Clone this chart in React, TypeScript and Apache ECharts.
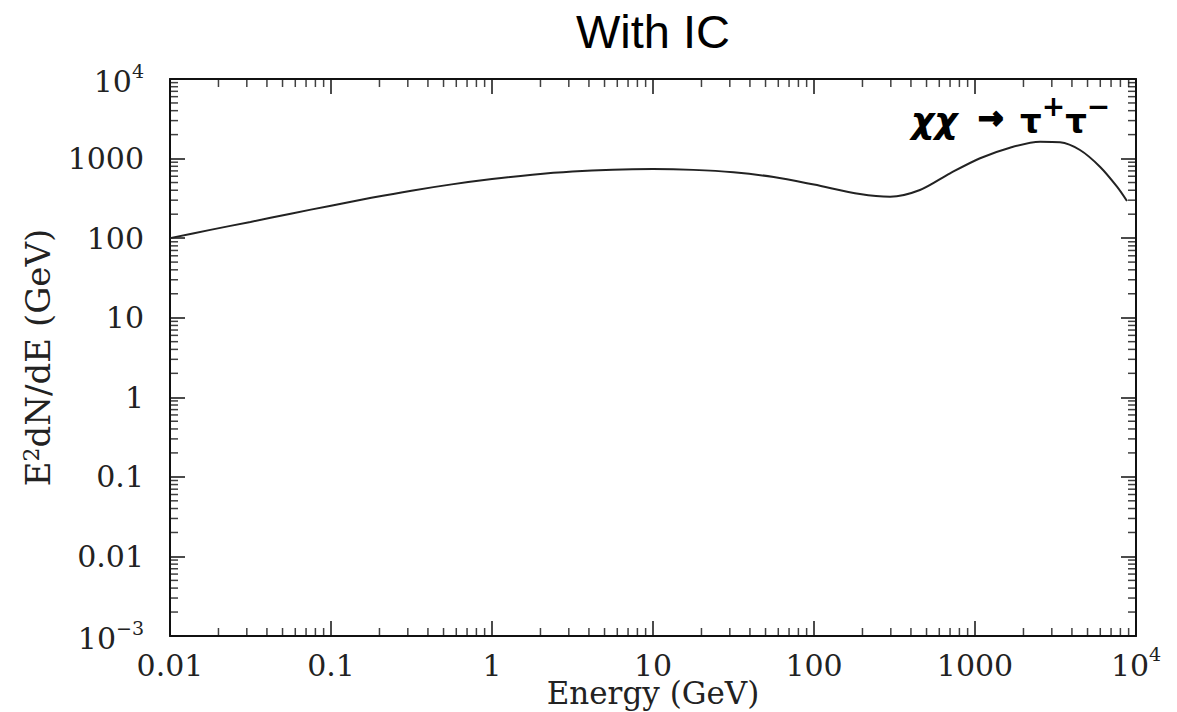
import React, { useEffect, useRef } from "react";
import * as echarts from "echarts";

// Energy (GeV) and E^2 dN/dE (GeV)
const energies = [
  0.01, 0.0178, 0.0316, 0.0562, 0.1, 0.178, 0.316, 0.562, 1, 1.78, 3.16, 5.62, 10, 17.8, 31.6, 56.2,
  100, 193, 297, 455, 700, 1075, 1648, 2535, 3373, 4487, 5970, 7620, 8790,
];
const spectrum = [
  100, 127, 160, 203, 256, 321, 395, 474, 553, 628, 689, 726, 738, 721, 673, 586,
  471, 359, 332, 403, 653, 1009, 1371, 1629, 1603, 1282, 791, 444, 293,
];

// Tick labels by decade exponent
const xTickLabels: Record<string, string> = {
  "-2": "{b|0.01}",
  "-1": "{b|0.1}",
  "0": "{b|1}",
  "1": "{b|10}",
  "2": "{b|100}",
  "3": "{b|1000}",
  "4": "{b|10}{s|4}",
};
const yTickLabels: Record<string, string> = {
  "-3": "{b|10}{s|−3}",
  "-2": "{b|0.01}",
  "-1": "{b|0.1}",
  "0": "{b|1}",
  "1": "{b|10}",
  "2": "{b|100}",
  "3": "{b|1000}",
  "4": "{b|10}{s|4}",
};
const xDecades = [-2, -1, 0, 1, 2, 3];
const yDecades = [-3, -2, -1, 0, 1, 2, 3];
const minorMultipliers = [2, 3, 4, 5, 6, 7, 8, 9];

const titleText = "With IC";
const xName = "Energy (GeV)";
const yName = "E{s|2}dN/dE (GeV)";

const X_MIN = 0.01;
const X_MAX = 10000;
const Y_MIN = 0.001;
const Y_MAX = 10000;

const SERIF = "'DejaVu Serif', serif";

export default function App() {
  const ref = useRef<HTMLDivElement>(null);
  useEffect(() => {
    if (!ref.current) return;
    const chart = echarts.init(ref.current, undefined, { renderer: "svg" });

    const xMinor: number[] = [];
    xDecades.forEach((n) => minorMultipliers.forEach((m) => xMinor.push(m * Math.pow(10, n))));
    const yMinor: number[] = [];
    yDecades.forEach((n) => minorMultipliers.forEach((m) => yMinor.push(m * Math.pow(10, n))));

    const lineData = energies.map((e, i) => [e, spectrum[i]]);

    const axisLineStyle = { color: "#111", width: 2 };
    const richX = {
      b: { fontSize: 30, fontFamily: SERIF, color: "#222", lineHeight: 36, verticalAlign: "bottom" },
      s: { fontSize: 19, fontFamily: SERIF, color: "#222", verticalAlign: "top" },
    };
    const richY = {
      b: { fontSize: 30, fontFamily: SERIF, color: "#222", verticalAlign: "bottom" },
      s: { fontSize: 19, fontFamily: SERIF, color: "#222", verticalAlign: "top", padding: [0, 0, 16, 0] },
    };
    const keyOf = (v: number) => String(Math.round(Math.log10(v)));

    const tickSeries = (data: number[][], size: number[], offset: number[]) => ({
      type: "scatter",
      xAxisIndex: 0,
      yAxisIndex: 0,
      data,
      symbol: "rect",
      symbolSize: size,
      symbolOffset: offset,
      itemStyle: { color: "#111" },
      clip: false,
      silent: true,
      z: 4,
    });

    const option: any = {
      animation: false,
      backgroundColor: "#fff",
      grid: { left: 170, right: 41, top: 79, bottom: 76, containLabel: false, outerBoundsMode: "none" },
      xAxis: [
        {
          type: "log",
          logBase: 10,
          min: X_MIN,
          max: X_MAX,
          position: "bottom",
          name: xName,
          nameLocation: "middle",
          nameGap: 44,
          nameMoveOverlap: false,
          nameTextStyle: { fontSize: 31, fontFamily: SERIF, color: "#222", lineHeight: 26 },
          axisLine: { show: true, lineStyle: axisLineStyle },
          axisTick: { show: true, inside: true, length: 15, lineStyle: { color: "#111", width: 1.5 } },
          axisLabel: {
            margin: 8,
            formatter: (v: number) => xTickLabels[keyOf(v)] ?? "",
            rich: richX,
          },
          splitLine: { show: false },
        },
        {
          type: "log",
          logBase: 10,
          min: X_MIN,
          max: X_MAX,
          position: "top",
          axisLine: { show: true, lineStyle: axisLineStyle },
          axisTick: { show: true, inside: true, length: 15, lineStyle: { color: "#111", width: 1.5 } },
          axisLabel: { show: false },
          splitLine: { show: false },
        },
      ],
      yAxis: [
        {
          type: "log",
          logBase: 10,
          min: Y_MIN,
          max: Y_MAX,
          position: "left",
          name: yName,
          nameLocation: "middle",
          nameGap: 114,
          nameRotate: 90,
          nameMoveOverlap: false,
          nameTextStyle: {
            fontSize: 34,
            fontFamily: SERIF,
            color: "#222",
            rich: { s: { fontSize: 22, fontFamily: SERIF, color: "#222", verticalAlign: "top", padding: [0, 0, 14, 0] } },
          },
          axisLine: { show: true, lineStyle: axisLineStyle },
          axisTick: { show: true, inside: true, length: 15, lineStyle: { color: "#111", width: 1.5 } },
          axisLabel: {
            margin: 26,
            formatter: (v: number) => yTickLabels[keyOf(v)] ?? "",
            rich: richY,
          },
          splitLine: { show: false },
        },
        {
          type: "log",
          logBase: 10,
          min: Y_MIN,
          max: Y_MAX,
          position: "right",
          axisLine: { show: true, lineStyle: axisLineStyle },
          axisTick: { show: true, inside: true, length: 15, lineStyle: { color: "#111", width: 1.5 } },
          axisLabel: { show: false },
          splitLine: { show: false },
        },
      ],
      series: [
        {
          type: "line",
          xAxisIndex: 0,
          yAxisIndex: 0,
          data: lineData,
          smooth: 0.3,
          showSymbol: false,
          symbol: "none",
          lineStyle: { color: "#222", width: 2 },
          silent: true,
          z: 3,
        },
        tickSeries(xMinor.map((v) => [v, Y_MIN]), [1.5, 8], [0, -4]),
        tickSeries(xMinor.map((v) => [v, Y_MAX]), [1.5, 8], [0, 4]),
        tickSeries(yMinor.map((v) => [X_MIN, v]), [8, 1.5], [4, 0]),
        tickSeries(yMinor.map((v) => [X_MAX, v]), [8, 1.5], [-4, 0]),
      ],
      graphic: [
        {
          type: "text",
          x: 653,
          y: 31,
          style: {
            text: titleText,
            font: "47px 'Liberation Sans', Arial, sans-serif",
            fill: "#000",
            textAlign: "center",
            textVerticalAlign: "middle",
          },
        },
        {
          type: "text",
          x: 911,
          y: 120,
          style: { text: "χχ", font: "italic bold 36px 'DejaVu Sans'", fill: "#000", textAlign: "left", textVerticalAlign: "middle" },
        },
        {
          type: "text",
          x: 978,
          y: 117,
          style: { text: "→", font: "bold 30px 'DejaVu Sans'", fill: "#000", stroke: "#000", lineWidth: 2, textAlign: "left", textVerticalAlign: "middle" },
        },
        {
          type: "text",
          x: 1020,
          y: 92,
          style: {
            text: "{t|τ}{p|+}{t|τ}{p|−}",
            textAlign: "left",
            textVerticalAlign: "top",
            rich: {
              t: { fontSize: 34, fontWeight: "bold", fontFamily: "'DejaVu Sans'", fill: "#000", verticalAlign: "bottom" },
              p: { fontSize: 28, fontWeight: "bold", fontFamily: "'DejaVu Sans'", fill: "#000", verticalAlign: "top", padding: [0, 0, 18, 0] },
            },
          },
        },
      ],
    };
    chart.setOption(option);
    return () => chart.dispose();
  }, []);
  return <div ref={ref} style={{ position: "absolute", left: 0, top: 0, width: 1177, height: 712 }} />;
}
